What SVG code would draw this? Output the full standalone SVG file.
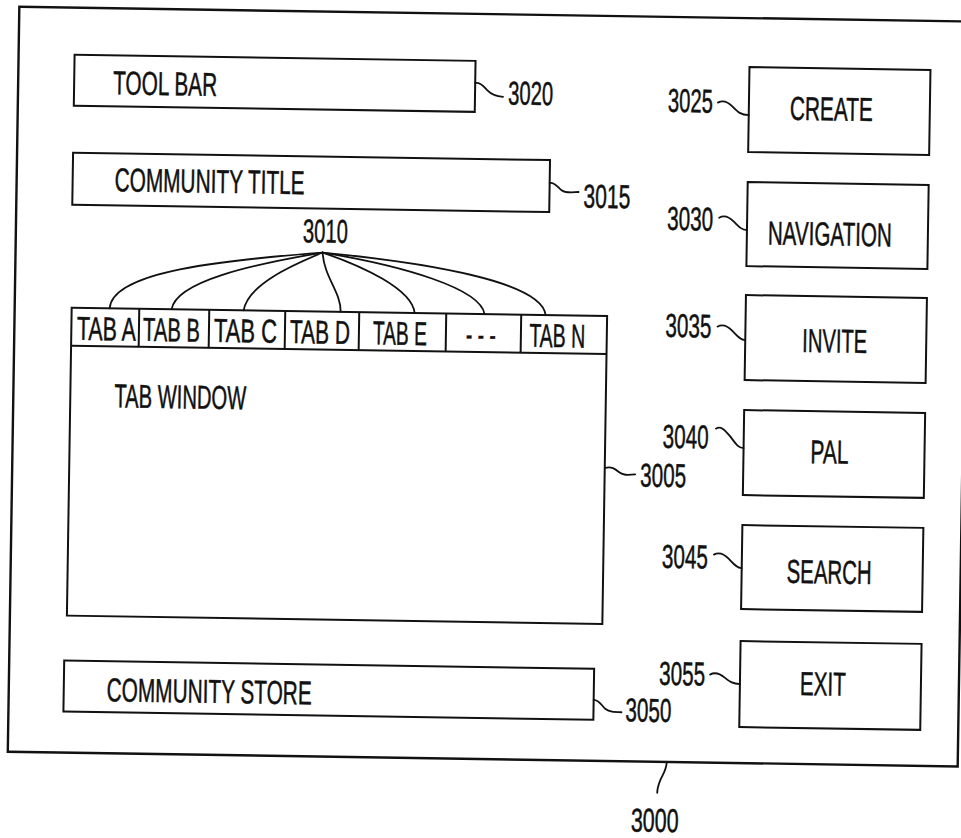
<svg xmlns="http://www.w3.org/2000/svg" width="961" height="838" viewBox="0 0 961 838">
<style>
.box{fill:none;stroke:#111;stroke-width:2}
.frame{fill:none;stroke:#111;stroke-width:2.4}
.lead{fill:none;stroke:#111;stroke-width:1.8;stroke-linecap:round;stroke-linejoin:round}
text{font-family:"Liberation Sans",Arial,sans-serif;font-size:33px;fill:#111;stroke:#111;stroke-width:0.5}
</style>
<rect width="961" height="838" fill="#fff"/>
<g transform="rotate(0.888 480 419)">
<g id="n3000"><rect class="frame" x="13" y="14" width="950" height="745"/></g>
<g id="n3020"><rect class="box" x="69" y="61" width="401" height="51"/><text transform="translate(108 100) scale(0.62 1)" textLength="167.7" lengthAdjust="spacingAndGlyphs">TOOL BAR</text></g>
<g id="n3015"><rect class="box" x="69" y="159" width="477" height="52"/><text transform="translate(111 197) scale(0.62 1)" textLength="306.5" lengthAdjust="spacingAndGlyphs">COMMUNITY TITLE</text></g>
<g id="n3005"><rect class="box" x="70" y="314" width="535.5" height="308"/><text transform="translate(114 413) scale(0.62 1)" textLength="212.9" lengthAdjust="spacingAndGlyphs">TAB WINDOW</text></g>
<g id="n3010">
<line class="box" x1="70" y1="352" x2="605.5" y2="352"/>
<g id="tabA"><line class="box" x1="137.6" y1="314" x2="137.6" y2="352"/><text transform="translate(75.6 346) scale(0.62 1)" textLength="95.2" lengthAdjust="spacingAndGlyphs">TAB A</text></g>
<g id="tabB"><line class="box" x1="207.6" y1="314" x2="207.6" y2="352"/><text transform="translate(141.6 346) scale(0.62 1)" textLength="91.9" lengthAdjust="spacingAndGlyphs">TAB B</text></g>
<g id="tabC"><line class="box" x1="283.6" y1="314" x2="283.6" y2="352"/><text transform="translate(212.6 346) scale(0.62 1)" textLength="101.6" lengthAdjust="spacingAndGlyphs">TAB C</text></g>
<g id="tabD"><line class="box" x1="357.6" y1="314" x2="357.6" y2="352"/><text transform="translate(288.6 346) scale(0.62 1)" textLength="96.8" lengthAdjust="spacingAndGlyphs">TAB D</text></g>
<g id="tabE"><line class="box" x1="444.6" y1="314" x2="444.6" y2="352"/><text transform="translate(371.6 346) scale(0.62 1)" textLength="87.1" lengthAdjust="spacingAndGlyphs">TAB E</text></g>
<g id="tabDots"><line class="box" x1="519.6" y1="314" x2="519.6" y2="352"/><text transform="translate(464.6 346) scale(0.62 1)" textLength="48.4" lengthAdjust="spacingAndGlyphs">- - -</text></g>
<g id="tabN"><text transform="translate(528 346) scale(0.62 1)" textLength="90.3" lengthAdjust="spacingAndGlyphs">TAB N</text></g>
</g>
<g id="n3025"><rect class="box" x="744" y="63" width="181" height="85"/><text transform="translate(785 115) scale(0.62 1)" textLength="133.9" lengthAdjust="spacingAndGlyphs">CREATE</text></g>
<g id="n3030"><rect class="box" x="744" y="178" width="181" height="84"/><text transform="translate(765 240) scale(0.62 1)" textLength="200" lengthAdjust="spacingAndGlyphs">NAVIGATION</text></g>
<g id="n3035"><rect class="box" x="744" y="291" width="181" height="85"/><text transform="translate(801 347) scale(0.62 1)" textLength="104.8" lengthAdjust="spacingAndGlyphs">INVITE</text></g>
<g id="n3040"><rect class="box" x="744" y="406" width="181" height="85"/><text transform="translate(811 458) scale(0.62 1)" textLength="61.3" lengthAdjust="spacingAndGlyphs">PAL</text></g>
<g id="n3045"><rect class="box" x="744" y="521" width="181" height="84"/><text transform="translate(789 578) scale(0.62 1)" textLength="137.1" lengthAdjust="spacingAndGlyphs">SEARCH</text></g>
<g id="n3055"><rect class="box" x="744" y="637" width="181" height="86"/><text transform="translate(804 690) scale(0.62 1)" textLength="74.2" lengthAdjust="spacingAndGlyphs">EXIT</text></g>
<g id="n3050"><rect class="box" x="68" y="667" width="530" height="51"/><text transform="translate(111 707) scale(0.62 1)" textLength="330.6" lengthAdjust="spacingAndGlyphs">COMMUNITY STORE</text></g>
<g id="labels">
<text transform="translate(503 104) scale(0.62 1)" textLength="72.6" lengthAdjust="spacingAndGlyphs">3020</text>
<text transform="translate(580 206) scale(0.62 1)" textLength="75.8" lengthAdjust="spacingAndGlyphs">3015</text>
<text transform="translate(300 245) scale(0.62 1)" textLength="72.6" lengthAdjust="spacingAndGlyphs">3010</text>
<text transform="translate(641 484) scale(0.62 1)" textLength="74.2" lengthAdjust="spacingAndGlyphs">3005</text>
<text transform="translate(663 109) scale(0.62 1)" textLength="72.6" lengthAdjust="spacingAndGlyphs">3025</text>
<text transform="translate(664 227) scale(0.62 1)" textLength="74.2" lengthAdjust="spacingAndGlyphs">3030</text>
<text transform="translate(664 334) scale(0.62 1)" textLength="74.2" lengthAdjust="spacingAndGlyphs">3035</text>
<text transform="translate(663 445) scale(0.62 1)" textLength="74.2" lengthAdjust="spacingAndGlyphs">3040</text>
<text transform="translate(664 565) scale(0.62 1)" textLength="74.2" lengthAdjust="spacingAndGlyphs">3045</text>
<text transform="translate(663 682) scale(0.62 1)" textLength="74.2" lengthAdjust="spacingAndGlyphs">3055</text>
<text transform="translate(630 719) scale(0.62 1)" textLength="74.2" lengthAdjust="spacingAndGlyphs">3050</text>
<text transform="translate(637 829) scale(0.62 1)" textLength="77.4" lengthAdjust="spacingAndGlyphs">3000</text>
</g>
<g id="connectors">
<path class="lead" d="M470,83 C476,82 479,87 482,90 S490,96 498,96.5"/>
<path class="lead" d="M546,182 C551,181 554,186 558,189 S567,191 575,190.5"/>
<path class="lead" d="M606,466 C612,464 616,467 620,470 S628,473 636,472"/>
<path class="lead" d="M598,698 C604,698 606,704 610,707 S618,710 626,710"/>
<path class="lead" d="M713,99 C718,96 723,98 728,103 S736,111 744,111"/>
<path class="lead" d="M716,214 C721,211 726,213 731,218 S739,226 744,226"/>
<path class="lead" d="M716,323 C721,320 726,322 731,327 S739,336 744,336"/>
<path class="lead" d="M716,425 C721,422 725,426 730,432 S738,444 744,444"/>
<path class="lead" d="M716,551 C721,548 726,550 731,555 S739,564 744,564"/>
<path class="lead" d="M714,671 C719,668 724,670 729,674 S737,680 744,680"/>
<path class="lead" d="M672,759 C672,767 668,772 666,777 S663,786 663,790"/>
<path class="lead" d="M108,314 C110,280 200,266 320,255"/>
<path class="lead" d="M170,314 C174,286 250,268 320,255"/>
<path class="lead" d="M242,314 C246,288 290,268 320,255"/>
<path class="lead" d="M339,314 C339,294 322,280 320,255"/>
<path class="lead" d="M413,314 C410,290 360,268 320,255"/>
<path class="lead" d="M483,314 C478,288 400,267 320,255"/>
<path class="lead" d="M544,314 C540,283 440,265 320,255"/>
</g>
</g>
</svg>
